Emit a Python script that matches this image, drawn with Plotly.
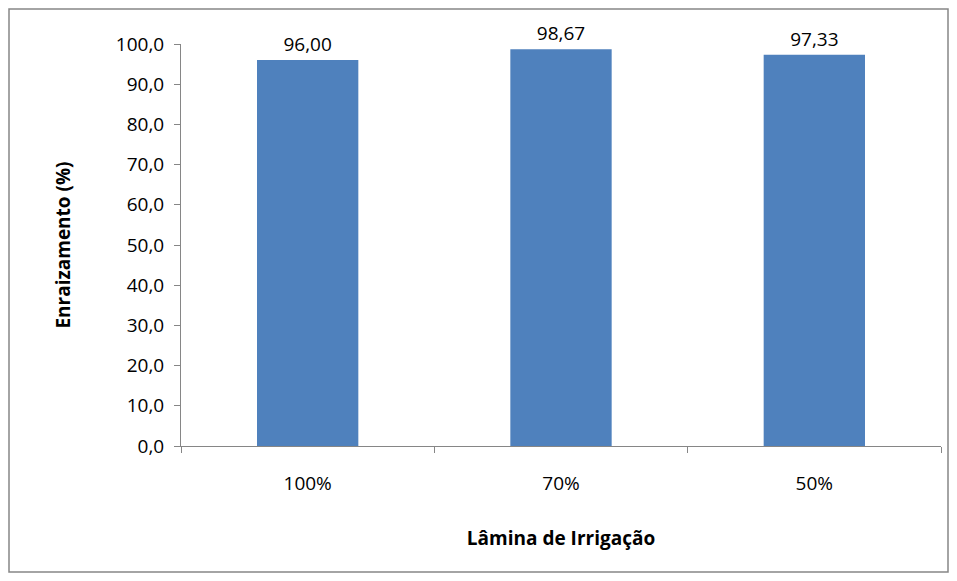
import plotly.graph_objects as go

categories = ["100%", "70%", "50%"]
values = [96.00, 98.67, 97.33]
y_ticks = [0, 10, 20, 30, 40, 50, 60, 70, 80, 90, 100]

W, H = 941, 565
L, R, T, B = 173, 8, 36, 127
pw, ph = W - L - R, H - T - B

fig = go.Figure(go.Bar(
    x=categories, y=values, width=0.4,
    marker=dict(color="#4F81BD", line=dict(width=0)),
    texttemplate="%{y:.2f}", textposition="outside",
    textfont=dict(size=19, color="#000000"), cliponaxis=False,
))
fig.update_layout(
    width=W, height=H, separators=",.",
    margin=dict(l=L, r=R, t=T, b=B),
    paper_bgcolor="white", plot_bgcolor="white",
    font=dict(family="Open Sans, Liberation Sans, sans-serif", size=19, color="#000000"),
    showlegend=False, bargap=0.6,
    xaxis=dict(type="category", tickson="boundaries", ticks="outside", ticklen=6,
               tickcolor="#868686", showline=True, linecolor="#868686", linewidth=1,
               tickfont=dict(size=19), ticklabelstandoff=20,
               title=dict(text="<b>Lâmina de Irrigação</b>", font=dict(size=19), standoff=36)),
    yaxis=dict(range=[0, 100], tickvals=y_ticks, tickformat=".1f", ticks="outside",
               ticklen=6, tickcolor="#868686", showline=True, linecolor="#868686",
               linewidth=1, showgrid=False, zeroline=False, tickfont=dict(size=19),
               ticklabelstandoff=6,
               title=dict(text="<b>Enraizamento (%)</b>", font=dict(size=19), standoff=40)),
    shapes=[dict(type="rect", xref="paper", yref="paper",
                 x0=-(L - 1) / pw, x1=1 + (R - 1) / pw,
                 y0=-(B - 1) / ph, y1=1 + (T - 1) / ph,
                 line=dict(color="#868686", width=1.5))],
)
fig.write_html("out.html")
